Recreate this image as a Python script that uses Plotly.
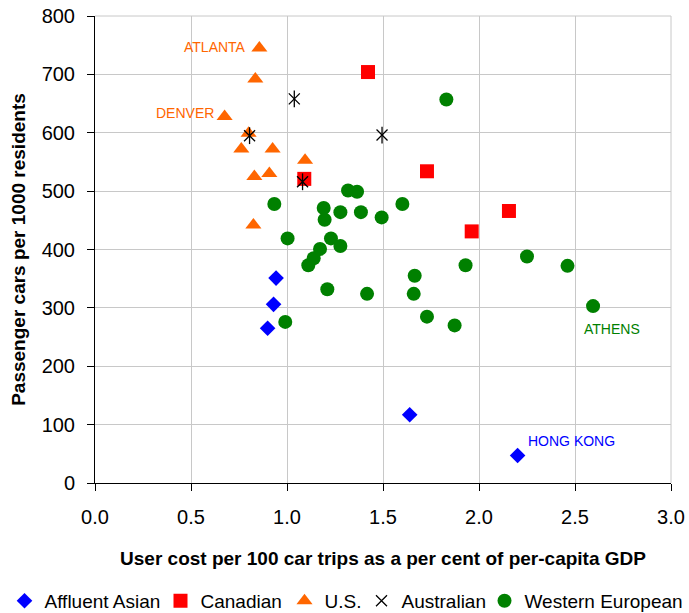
import plotly.graph_objects as go

# Affluent Asian
asian_x = [0.943, 0.93, 0.899, 1.639, 2.201]
asian_y = [351, 306, 265, 117, 47]
# Canadian
can_x = [1.422, 1.09, 1.729, 2.156, 1.962]
can_y = [704, 521, 534, 466, 431]
# U.S.
us_x = [0.856, 0.835, 0.675, 0.80, 0.762, 0.925, 1.094, 0.83, 0.908, 0.825]
us_y = [745, 692, 628, 599, 572, 572, 553, 525, 530, 442]
# Australian
aus_x = [1.038, 0.805, 1.495, 1.081]
aus_y = [658, 595, 596, 516]
# Western European
eu_x = [0.934, 1.003, 0.991, 1.111, 1.139, 1.172, 1.21, 1.191, 1.196, 1.229,
        1.278, 1.278, 1.318, 1.365, 1.385, 1.417, 1.493, 1.601, 1.665, 1.66,
        1.729, 1.83, 1.873, 1.93, 2.25, 2.461, 2.594]
eu_y = [478, 419, 276, 373, 385, 401, 332, 471, 451, 419,
        464, 406, 501, 499, 464, 324, 455, 478, 355, 324,
        285, 657, 270, 373, 388, 372, 303]

# City labels
lab_text = ["ATLANTA", "DENVER", "ATHENS", "HONG KONG"]
lab_x = [0.798, 0.628, 2.536, 2.243]
lab_y = [747, 634, 264, 72]
lab_anchor = ["right", "right", "left", "left"]
lab_color = ["#FF6600", "#FF6600", "#008000", "#0000FF"]

x_ticks = [0.0, 0.5, 1.0, 1.5, 2.0, 2.5, 3.0]
x_ticklabels = ["0.0", "0.5", "1.0", "1.5", "2.0", "2.5", "3.0"]
y_ticks = [0, 100, 200, 300, 400, 500, 600, 700, 800]

FONT = "Liberation Sans, Arial, sans-serif"

fig = go.Figure()
fig.add_trace(go.Scatter(x=asian_x, y=asian_y, mode="markers", name="Affluent Asian",
                         legend="legend",
                         marker=dict(symbol="diamond", size=12, color="#0000FF")))
fig.add_trace(go.Scatter(x=can_x, y=can_y, mode="markers", name="Canadian",
                         legend="legend2",
                         marker=dict(symbol="square", size=14, color="#FF0000")))
fig.add_trace(go.Scatter(x=us_x, y=us_y, mode="markers", name="U.S.",
                         legend="legend3",
                         marker=dict(symbol="triangle-up", size=14, color="#FF6600")))
fig.add_trace(go.Scatter(x=aus_x, y=aus_y, mode="markers", name="Australian",
                         legend="legend4", legendgroup="aus",
                         marker=dict(symbol="x-thin-open", size=11, color="black",
                                     line=dict(width=1.3, color="black"))))
fig.add_trace(go.Scatter(x=aus_x, y=aus_y, mode="markers", name="Australian",
                         legend="legend4", legendgroup="aus", showlegend=False,
                         marker=dict(symbol="line-ns-open", size=12, color="black",
                                     line=dict(width=1.3, color="black"))))
fig.add_trace(go.Scatter(x=eu_x, y=eu_y, mode="markers", name="Western European",
                         legend="legend5",
                         marker=dict(symbol="circle", size=14, color="#008000")))

for t, x, y, a, c in zip(lab_text, lab_x, lab_y, lab_anchor, lab_color):
    fig.add_annotation(x=x, y=y, text=t, showarrow=False, xanchor=a, yanchor="middle",
                       font=dict(family=FONT, size=14, color=c))

L, W = 95, 576
leg_px = [4.5, 160.5, 284.5, 361.5, 484.5]
leg_y = -0.2526


def leg(px):
    return dict(orientation="h", x=(px - L) / W, xanchor="left", y=leg_y, yanchor="middle",
                font=dict(size=19, family=FONT, color="black"), itemsizing="trace",
                bgcolor="rgba(0,0,0,0)", borderwidth=0)


fig.update_layout(
    width=689, height=613,
    margin=dict(l=L, r=18, t=16, b=130, autoexpand=False),
    paper_bgcolor="white", plot_bgcolor="white",
    font=dict(family=FONT, color="black"),
    showlegend=True,
    legend=leg(leg_px[0]), legend2=leg(leg_px[1]), legend3=leg(leg_px[2]),
    legend4=leg(leg_px[3]), legend5=leg(leg_px[4]),
    xaxis=dict(range=[0, 3], tickvals=x_ticks, ticktext=x_ticklabels, automargin=False,
               showgrid=True, gridcolor="#C8C8C8", gridwidth=1,
               zeroline=False, showline=True, linecolor="black", linewidth=1,
               ticks="outside", ticklen=7, tickcolor="black", ticklabelstandoff=9,
               tickfont=dict(size=20, family=FONT),
               title=dict(text="<b>User cost per 100 car trips as a per cent of per-capita GDP</b>",
                          font=dict(size=19, family=FONT), standoff=24)),
    yaxis=dict(range=[0, 800], tickvals=y_ticks, automargin=False,
               showgrid=True, gridcolor="#C8C8C8", gridwidth=1,
               zeroline=False, showline=True, linecolor="black", linewidth=1,
               ticks="outside", ticklen=7, tickcolor="black", ticklabelstandoff=8,
               tickfont=dict(size=20, family=FONT),
               title=dict(text="<b>Passenger cars per 1000 residents</b>",
                          font=dict(size=19, family=FONT), standoff=10)),
)
fig.add_shape(type="line", xref="paper", yref="paper", x0=1, x1=1, y0=0, y1=1,
              line=dict(color="#C8C8C8", width=1), layer="below")
fig.add_shape(type="line", xref="paper", yref="paper", x0=0, x1=1, y0=1, y1=1,
              line=dict(color="#C8C8C8", width=1), layer="below")

fig.write_html("out.html", config={"displayModeBar": False},
               post_script="document.body.style.margin='0px';")
